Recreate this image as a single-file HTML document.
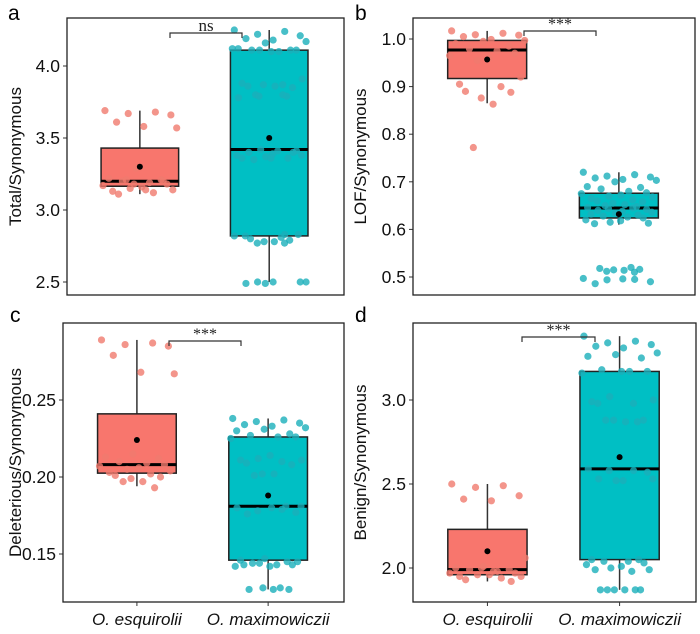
<!DOCTYPE html>
<html><head><meta charset="utf-8"><style>
body{margin:0;background:#fff;}
svg text{font-family:"Liberation Sans",Arial,sans-serif;}
</style></head><body>
<svg id="fig" width="700" height="629" viewBox="0 0 700 629" xmlns="http://www.w3.org/2000/svg"></svg>
<script>
// ---- data ----
const groups = ["O. esquirolii", "O. maximowiczii"];
const aTicks = [2.5, 3.0, 3.5, 4.0];
const aBoxRed = [3.11, 3.165, 3.20, 3.43, 3.69]; const aMeanRed = 3.30;
const aBoxTeal = [2.50, 2.82, 3.42, 4.11, 4.25]; const aMeanTeal = 3.50;
const aPtsRed = [3.69,3.68,3.67,3.66,3.61,3.58,3.57,3.29,3.22,3.21,3.20,3.19,3.18,3.17,3.16,3.15,3.14,3.13,3.12,3.11,3.20,3.18,3.14,3.21];
const aPtsTeal = [4.25,4.24,4.22,4.21,4.19,4.18,4.17,4.16,4.12,4.11,4.11,4.10,4.11,4.12,4.10,4.11,3.91,3.88,3.87,3.86,3.85,3.87,3.86,3.80,3.79,3.78,3.80,3.79,3.41,3.40,3.39,3.38,3.37,3.36,3.36,3.35,3.41,3.40,3.38,3.36,3.42,2.83,2.82,2.81,2.80,2.79,2.78,2.78,2.77,2.77,2.82,2.83,2.50,2.50,2.49,2.50,2.50,2.49];
const bTicks = [0.5, 0.6, 0.7, 0.8, 0.9, 1.0];
const bBoxRed = [0.865, 0.917, 0.977, 0.997, 1.017]; const bMeanRed = 0.957;
const bBoxTeal = [0.61, 0.624, 0.645, 0.676, 0.72]; const bMeanTeal = 0.632;
const bPtsRed = [1.017,1.012,1.009,1.008,1.005,0.999,0.997,0.995,0.99,0.985,0.98,0.975,0.97,0.965,0.96,0.955,0.92,0.905,0.90,0.89,0.888,0.876,0.863,0.772];
const bPtsTeal = [0.72,0.715,0.712,0.71,0.708,0.705,0.703,0.70,0.69,0.688,0.685,0.68,0.677,0.675,0.672,0.67,0.668,0.665,0.662,0.66,0.658,0.655,0.652,0.65,0.648,0.646,0.645,0.644,0.642,0.64,0.638,0.636,0.634,0.632,0.63,0.628,0.626,0.624,0.62,0.618,0.615,0.613,0.612,0.52,0.518,0.516,0.515,0.514,0.512,0.51,0.497,0.495,0.494,0.49,0.486,0.496];
const cTicks = [0.15, 0.20, 0.25];
const cBoxRed = [0.194, 0.2025, 0.208, 0.241, 0.289]; const cMeanRed = 0.224;
const cBoxTeal = [0.127, 0.146, 0.181, 0.226, 0.238]; const cMeanTeal = 0.188;
const cPtsRed = [0.289,0.287,0.286,0.285,0.279,0.268,0.267,0.215,0.213,0.212,0.21,0.209,0.208,0.207,0.206,0.205,0.204,0.203,0.202,0.201,0.200,0.199,0.197,0.197,0.193];
const cPtsTeal = [0.238,0.237,0.236,0.235,0.234,0.233,0.232,0.231,0.230,0.228,0.227,0.226,0.226,0.225,0.214,0.212,0.211,0.211,0.210,0.209,0.208,0.202,0.202,0.201,0.181,0.180,0.179,0.178,0.177,0.176,0.18,0.181,0.147,0.146,0.145,0.144,0.143,0.143,0.142,0.142,0.144,0.145,0.143,0.128,0.127,0.127,0.128,0.127];
const dTicks = [2.0, 2.5, 3.0];
const dBoxRed = [1.92, 1.96, 1.99, 2.23, 2.50]; const dMeanRed = 2.10;
const dBoxTeal = [1.87, 2.05, 2.59, 3.17, 3.38]; const dMeanTeal = 2.66;
const dPtsRed = [2.50,2.49,2.48,2.43,2.41,2.40,2.06,2.01,2.00,1.99,1.99,1.98,1.97,1.97,1.96,1.96,1.95,1.95,1.94,1.93,1.92,2.00,1.98];
const dPtsTeal = [3.38,3.35,3.34,3.33,3.32,3.31,3.28,3.27,3.26,3.25,3.18,3.17,3.17,3.16,3.17,3.02,3.00,2.99,2.98,2.98,2.88,2.88,2.87,2.88,2.87,2.59,2.58,2.58,2.57,2.53,2.52,2.53,2.52,2.05,2.05,2.04,2.04,2.03,2.02,2.01,2.00,1.99,1.99,1.98,1.87,1.87,1.87,1.87,1.87,1.87];

const NS = "http://www.w3.org/2000/svg";
const svg = document.getElementById("fig");
function mk(tag, attrs, parent){const e=document.createElementNS(NS,tag);for(const k in attrs)e.setAttribute(k,attrs[k]);(parent||svg).appendChild(e);return e;}

const panels = [
 {id:"a",letter:"a",x0:67,x1:344,y0:18,y1:295,t1v:2.5,t1y:282,t2v:4.0,t2y:66,ticks:aTicks,dec:1,title:"Total/Synonymous",br:aBoxRed,bt:aBoxTeal,mr:aMeanRed,mt:aMeanTeal,pr:aPtsRed,pt:aPtsTeal,sig:"ns",bx0:170,bx1:242,by:33,lx:8,ly:20,xl:false},
 {id:"b",letter:"b",x0:413,x1:695,y0:18,y1:295,t1v:0.5,t1y:277,t2v:1.0,t2y:39,ticks:bTicks,dec:1,title:"LOF/Synonymous",br:bBoxRed,bt:bBoxTeal,mr:bMeanRed,mt:bMeanTeal,pr:bPtsRed,pt:bPtsTeal,sig:"***",bx0:524,bx1:596,by:31,lx:355,ly:20,xl:false},
 {id:"c",letter:"c",x0:63,x1:344,y0:323,y1:602,t1v:0.15,t1y:554,t2v:0.25,t2y:400,ticks:cTicks,dec:2,title:"Deleterious/Synonymous",br:cBoxRed,bt:cBoxTeal,mr:cMeanRed,mt:cMeanTeal,pr:cPtsRed,pt:cPtsTeal,sig:"***",bx0:169,bx1:241,by:341,lx:10,ly:322,xl:true},
 {id:"d",letter:"d",x0:413,x1:696,y0:323,y1:602,t1v:2.0,t1y:568,t2v:3.0,t2y:400,ticks:dTicks,dec:1,title:"Benign/Synonymous",br:dBoxRed,bt:dBoxTeal,mr:dMeanRed,mt:dMeanTeal,pr:dPtsRed,pt:dPtsTeal,sig:"***",bx0:522,bx1:595,by:337,lx:355,ly:322,xl:true}
];
const offs=[-0.9,0.4,-0.3,0.8,-0.6,0.1,0.95,-0.1,-0.8,0.55,-0.45,0.25,0.7,-0.95,0.05,-0.25,0.85,-0.7,0.35,-0.55,0.6,-0.15,0.15,-0.35,0.45];

panels.forEach(p=>{
  const g=mk("g",{});
  
  
  const y=v=>p.t1y+(v-p.t1v)*(p.t2y-p.t1y)/(p.t2v-p.t1v);
  const w=p.x1-p.x0;
  const cx=[p.x0+w*0.263,p.x0+w*0.73];
  const bw=w*0.28;
  const lt=mk("text",{x:p.lx,y:p.ly,"font-size":21},g);lt.textContent=p.letter;
  
  p.ticks.forEach(t=>{
    mk("line",{x1:p.x0-4,x2:p.x0,y1:y(t),y2:y(t),stroke:"#333","stroke-width":1},g);
    const tx=mk("text",{x:p.x0-7,y:y(t)+6,"font-size":17.5,"text-anchor":"end",fill:"#111"},g);
    tx.textContent=t.toFixed(p.dec);
    
  });
  const yc=(p.y0+p.y1)/2;
  const yt=mk("text",{x:0,y:0,"font-size":17,"text-anchor":"middle",transform:`translate(${p.id==='c'||p.id==='a'?21:366},${yc}) rotate(-90)`,fill:"#111"},g);
  yt.textContent=p.title;
  
  const cols=[["#F8766D","#F07A6E"],["#00BFC4","#1AAFBA"]];
  [[p.br,p.mr,p.pr],[p.bt,p.mt,p.pt]].forEach((grp,i)=>{
    const [b,m,pts]=grp; const c=cx[i];
    mk("line",{x1:c,x2:c,y1:y(b[0]),y2:y(b[1]),stroke:"#333","stroke-width":1.5},g);
    mk("line",{x1:c,x2:c,y1:y(b[3]),y2:y(b[4]),stroke:"#333","stroke-width":1.5},g);
    const r=mk("rect",{x:c-bw/2,y:y(b[3]),width:bw,height:y(b[1])-y(b[3]),fill:cols[i][0],stroke:"#222","stroke-width":1.5},g);
    
    mk("line",{x1:c-bw/2,x2:c+bw/2,y1:y(b[2]),y2:y(b[2]),stroke:"#000","stroke-width":3},g);
    pts.forEach((v,k)=>{
      const pt=mk("circle",{cx:c+offs[k%offs.length]*bw*0.5*(1+(Math.floor(k/25)%2)*-0.12),cy:y(v),r:3.6,fill:cols[i][1],"fill-opacity":0.8},g);
      
    });
    const mp=mk("circle",{cx:c,cy:y(m),r:3,fill:"#000"},g);
    
  });
  const fr=mk("rect",{x:p.x0,y:p.y0,width:w,height:p.y1-p.y0,fill:"none",stroke:"#222","stroke-width":1.3},g);
  
  mk("path",{d:`M${p.bx0},${p.by+5}V${p.by}H${p.bx1}V${p.by+5}`,fill:"none",stroke:"#333","stroke-width":1.2},g);
  const s=mk("text",{x:(p.bx0+p.bx1)/2,y:p.by-2,"font-size":p.sig==='ns'?17:16,"text-anchor":"middle",style:"font-family:'Liberation Serif',serif",fill:"#222"},g);
  s.textContent=p.sig;
  if(p.xl){groups.forEach((n,i)=>{
    mk("line",{x1:cx[i],x2:cx[i],y1:p.y1,y2:p.y1+4,stroke:"#333"},g);
    const t=mk("text",{x:cx[i],y:625,"font-size":17,"font-style":"italic","text-anchor":"middle",fill:"#111"},g);
    t.textContent=n;
  });}
});
</script>
</body></html>
